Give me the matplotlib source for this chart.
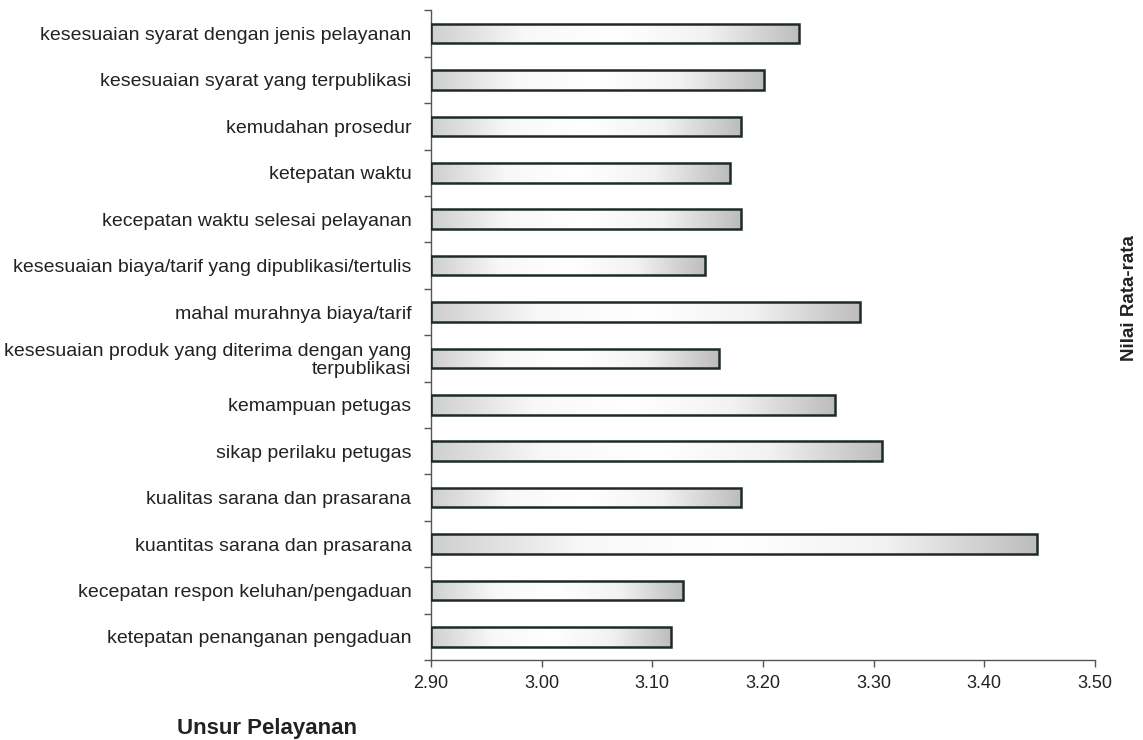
import numpy as np
import matplotlib.pyplot as plt
from matplotlib.colors import LinearSegmentedColormap

plt.rcParams['font.family'] = ['Liberation Sans', 'DejaVu Sans']

# data, top to bottom as in the chart
categories = [
    "kesesuaian syarat dengan jenis pelayanan",
    "kesesuaian syarat yang terpublikasi",
    "kemudahan prosedur",
    "ketepatan waktu",
    "kecepatan waktu selesai pelayanan",
    "kesesuaian biaya/tarif yang dipublikasi/tertulis",
    "mahal murahnya biaya/tarif",
    "kesesuaian produk yang diterima dengan yang\nterpublikasi",
    "kemampuan petugas",
    "sikap perilaku petugas",
    "kualitas sarana dan prasarana",
    "kuantitas sarana dan prasarana",
    "kecepatan respon keluhan/pengaduan",
    "ketepatan penanganan pengaduan",
]
values = [3.233, 3.201, 3.180, 3.170, 3.180, 3.148, 3.288, 3.160,
          3.265, 3.308, 3.180, 3.448, 3.128, 3.117]
x_ticks = [2.90, 3.00, 3.10, 3.20, 3.30, 3.40, 3.50]

fig = plt.figure(figsize=(11.43, 7.4), dpi=100)
ax = fig.add_axes([0.377, 0.108, 0.581, 0.878])

n = len(categories)
ypos = np.arange(n)[::-1]
base = x_ticks[0]

bars = ax.barh(ypos, [v - base for v in values], left=base, height=0.42,
               facecolor='none', edgecolor='#1e2a2a', linewidth=1.8, zorder=3)

# soft grey gradient fill like the original
cmap = LinearSegmentedColormap.from_list('g', ['#cfcfcf', '#f8f8f8', '#ffffff', '#f2f2f2', '#bdbdbd'])
grad = np.linspace(0, 1, 256).reshape(1, -1)
for b in bars:
    x0, y0 = b.get_x(), b.get_y()
    w, h = b.get_width(), b.get_height()
    im = ax.imshow(grad, cmap=cmap, aspect='auto', extent=[x0, x0 + w, y0, y0 + h],
                   zorder=2, interpolation='bicubic')
    im.set_clip_path(b)

ax.set_xlim(2.90, 3.50)
ax.set_ylim(-0.5, n - 0.5)
ax.set_xticks(x_ticks)
ax.set_xticklabels([f"{t:.2f}" for t in x_ticks], fontsize=13, color='#222222')

ax.set_yticks(ypos)
ax.set_yticklabels(categories, fontsize=14, color='#222222', linespacing=1.05)
ax.tick_params(axis='y', length=0, pad=14)
ax.set_yticks(np.arange(-0.5, n, 1.0), minor=True)
ax.tick_params(axis='y', which='minor', length=5, width=1, color='#555555')
ax.tick_params(axis='x', length=5, width=1, color='#555555', pad=6)

for side in ['top', 'right']:
    ax.spines[side].set_visible(False)
for side in ['left', 'bottom']:
    ax.spines[side].set_color('#555555')
    ax.spines[side].set_linewidth(1)

fig.text(0.234, 0.016, "Unsur Pelayanan", fontsize=16, fontweight='bold', ha='center',
         va='center', color='#222222')
fig.text(0.988, 0.597, "Nilai Rata-rata", fontsize=13.5, fontweight='bold', rotation=90,
         ha='center', va='center', color='#222222')

fig.savefig('out.png', dpi=100, facecolor='white')
